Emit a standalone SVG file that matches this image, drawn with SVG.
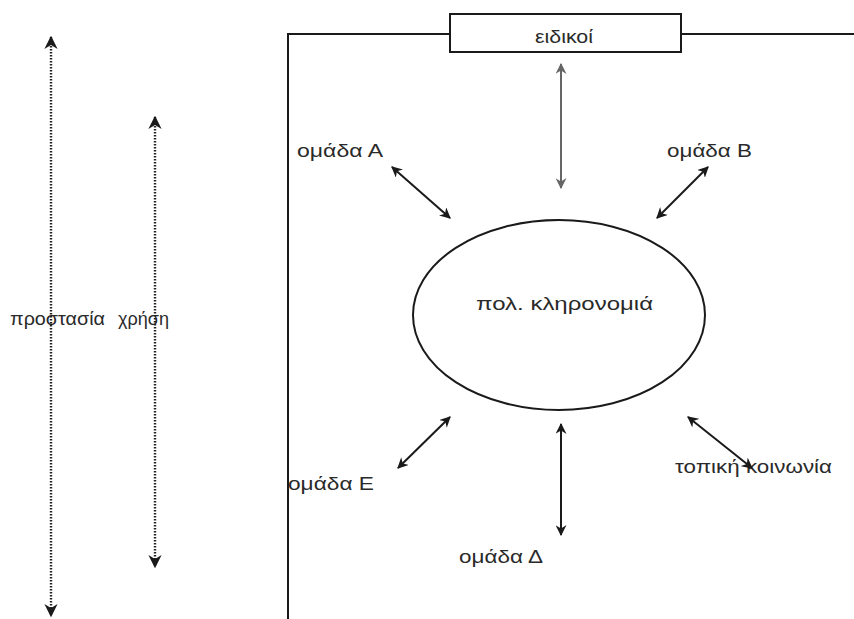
<svg xmlns="http://www.w3.org/2000/svg" width="854" height="619" viewBox="0 0 854 619">
<style>
text{font-family:"Liberation Sans",Arial,sans-serif;font-size:19px;fill:#2a2a2a}
.ln{stroke:#1a1a1a;stroke-width:2;fill:none}
.dot{stroke:#222;stroke-width:2.4;stroke-dasharray:1.6,1.4;fill:none}
.gr{stroke:#666;stroke-width:2;fill:none}
</style>
<defs>
<marker id="a" viewBox="0 0 10 10" refX="9" refY="5" markerWidth="5.5" markerHeight="5.5" orient="auto-start-reverse" markerUnits="strokeWidth">
<path d="M0,0 L10,5 L0,10 L3,5 Z" fill="#1a1a1a"/>
</marker>
<marker id="g" viewBox="0 0 10 10" refX="9" refY="5" markerWidth="5.5" markerHeight="5.5" orient="auto-start-reverse" markerUnits="strokeWidth">
<path d="M0,0 L10,5 L0,10 L3,5 Z" fill="#666"/>
</marker>
</defs>
<rect width="854" height="619" fill="#fff"/>
<g id="frame">
<path class="ln" d="M288,619 V34 H450 M681,34 H854"/>
</g>
<g id="eidikoi">
<rect x="450" y="14" width="231" height="38" fill="#fff" stroke="#1a1a1a" stroke-width="2"/>
<text x="535" y="43" textLength="58" lengthAdjust="spacingAndGlyphs" fill="#444">ειδικοί</text>
</g>
<g id="heritage">
<ellipse cx="559" cy="315" rx="146" ry="95" fill="#fff" stroke="#1a1a1a" stroke-width="2"/>
<text x="476" y="310" textLength="177" lengthAdjust="spacingAndGlyphs">πολ. κληρονομιά</text>
</g>
<g id="groupA"><text x="297" y="157" textLength="86" lengthAdjust="spacingAndGlyphs">ομάδα Α</text></g>
<g id="groupB"><text x="667" y="157" textLength="85" lengthAdjust="spacingAndGlyphs">ομάδα Β</text></g>
<g id="groupE"><text x="288" y="490" textLength="86" lengthAdjust="spacingAndGlyphs">ομάδα Ε</text></g>
<g id="groupD"><text x="459" y="563" textLength="84" lengthAdjust="spacingAndGlyphs">ομάδα Δ</text></g>
<g id="community"><text x="675" y="473" textLength="157" lengthAdjust="spacingAndGlyphs">τοπική κοινωνία</text></g>
<g id="protection"><text x="10" y="325" textLength="95" lengthAdjust="spacingAndGlyphs">προστασία</text></g>
<g id="use"><text x="118" y="325" textLength="51" lengthAdjust="spacingAndGlyphs">χρήση</text></g>
<g id="connectors">
<line class="dot" x1="51" y1="37" x2="51" y2="616" marker-start="url(#a)" marker-end="url(#a)"/>
<line class="dot" x1="155" y1="117" x2="155" y2="567" marker-start="url(#a)" marker-end="url(#a)"/>
<line class="gr" x1="561" y1="64" x2="561" y2="188" marker-start="url(#g)" marker-end="url(#g)"/>
<line class="ln" x1="392" y1="167" x2="450" y2="218" marker-start="url(#a)" marker-end="url(#a)"/>
<line class="ln" x1="708" y1="167" x2="657" y2="218" marker-start="url(#a)" marker-end="url(#a)"/>
<line class="ln" x1="450" y1="417" x2="398" y2="468" marker-start="url(#a)" marker-end="url(#a)"/>
<line class="ln" x1="561" y1="424" x2="561" y2="535" marker-start="url(#a)" marker-end="url(#a)"/>
<line class="ln" x1="688" y1="417" x2="752" y2="468" marker-start="url(#a)" marker-end="url(#a)"/>
</g>
</svg>
